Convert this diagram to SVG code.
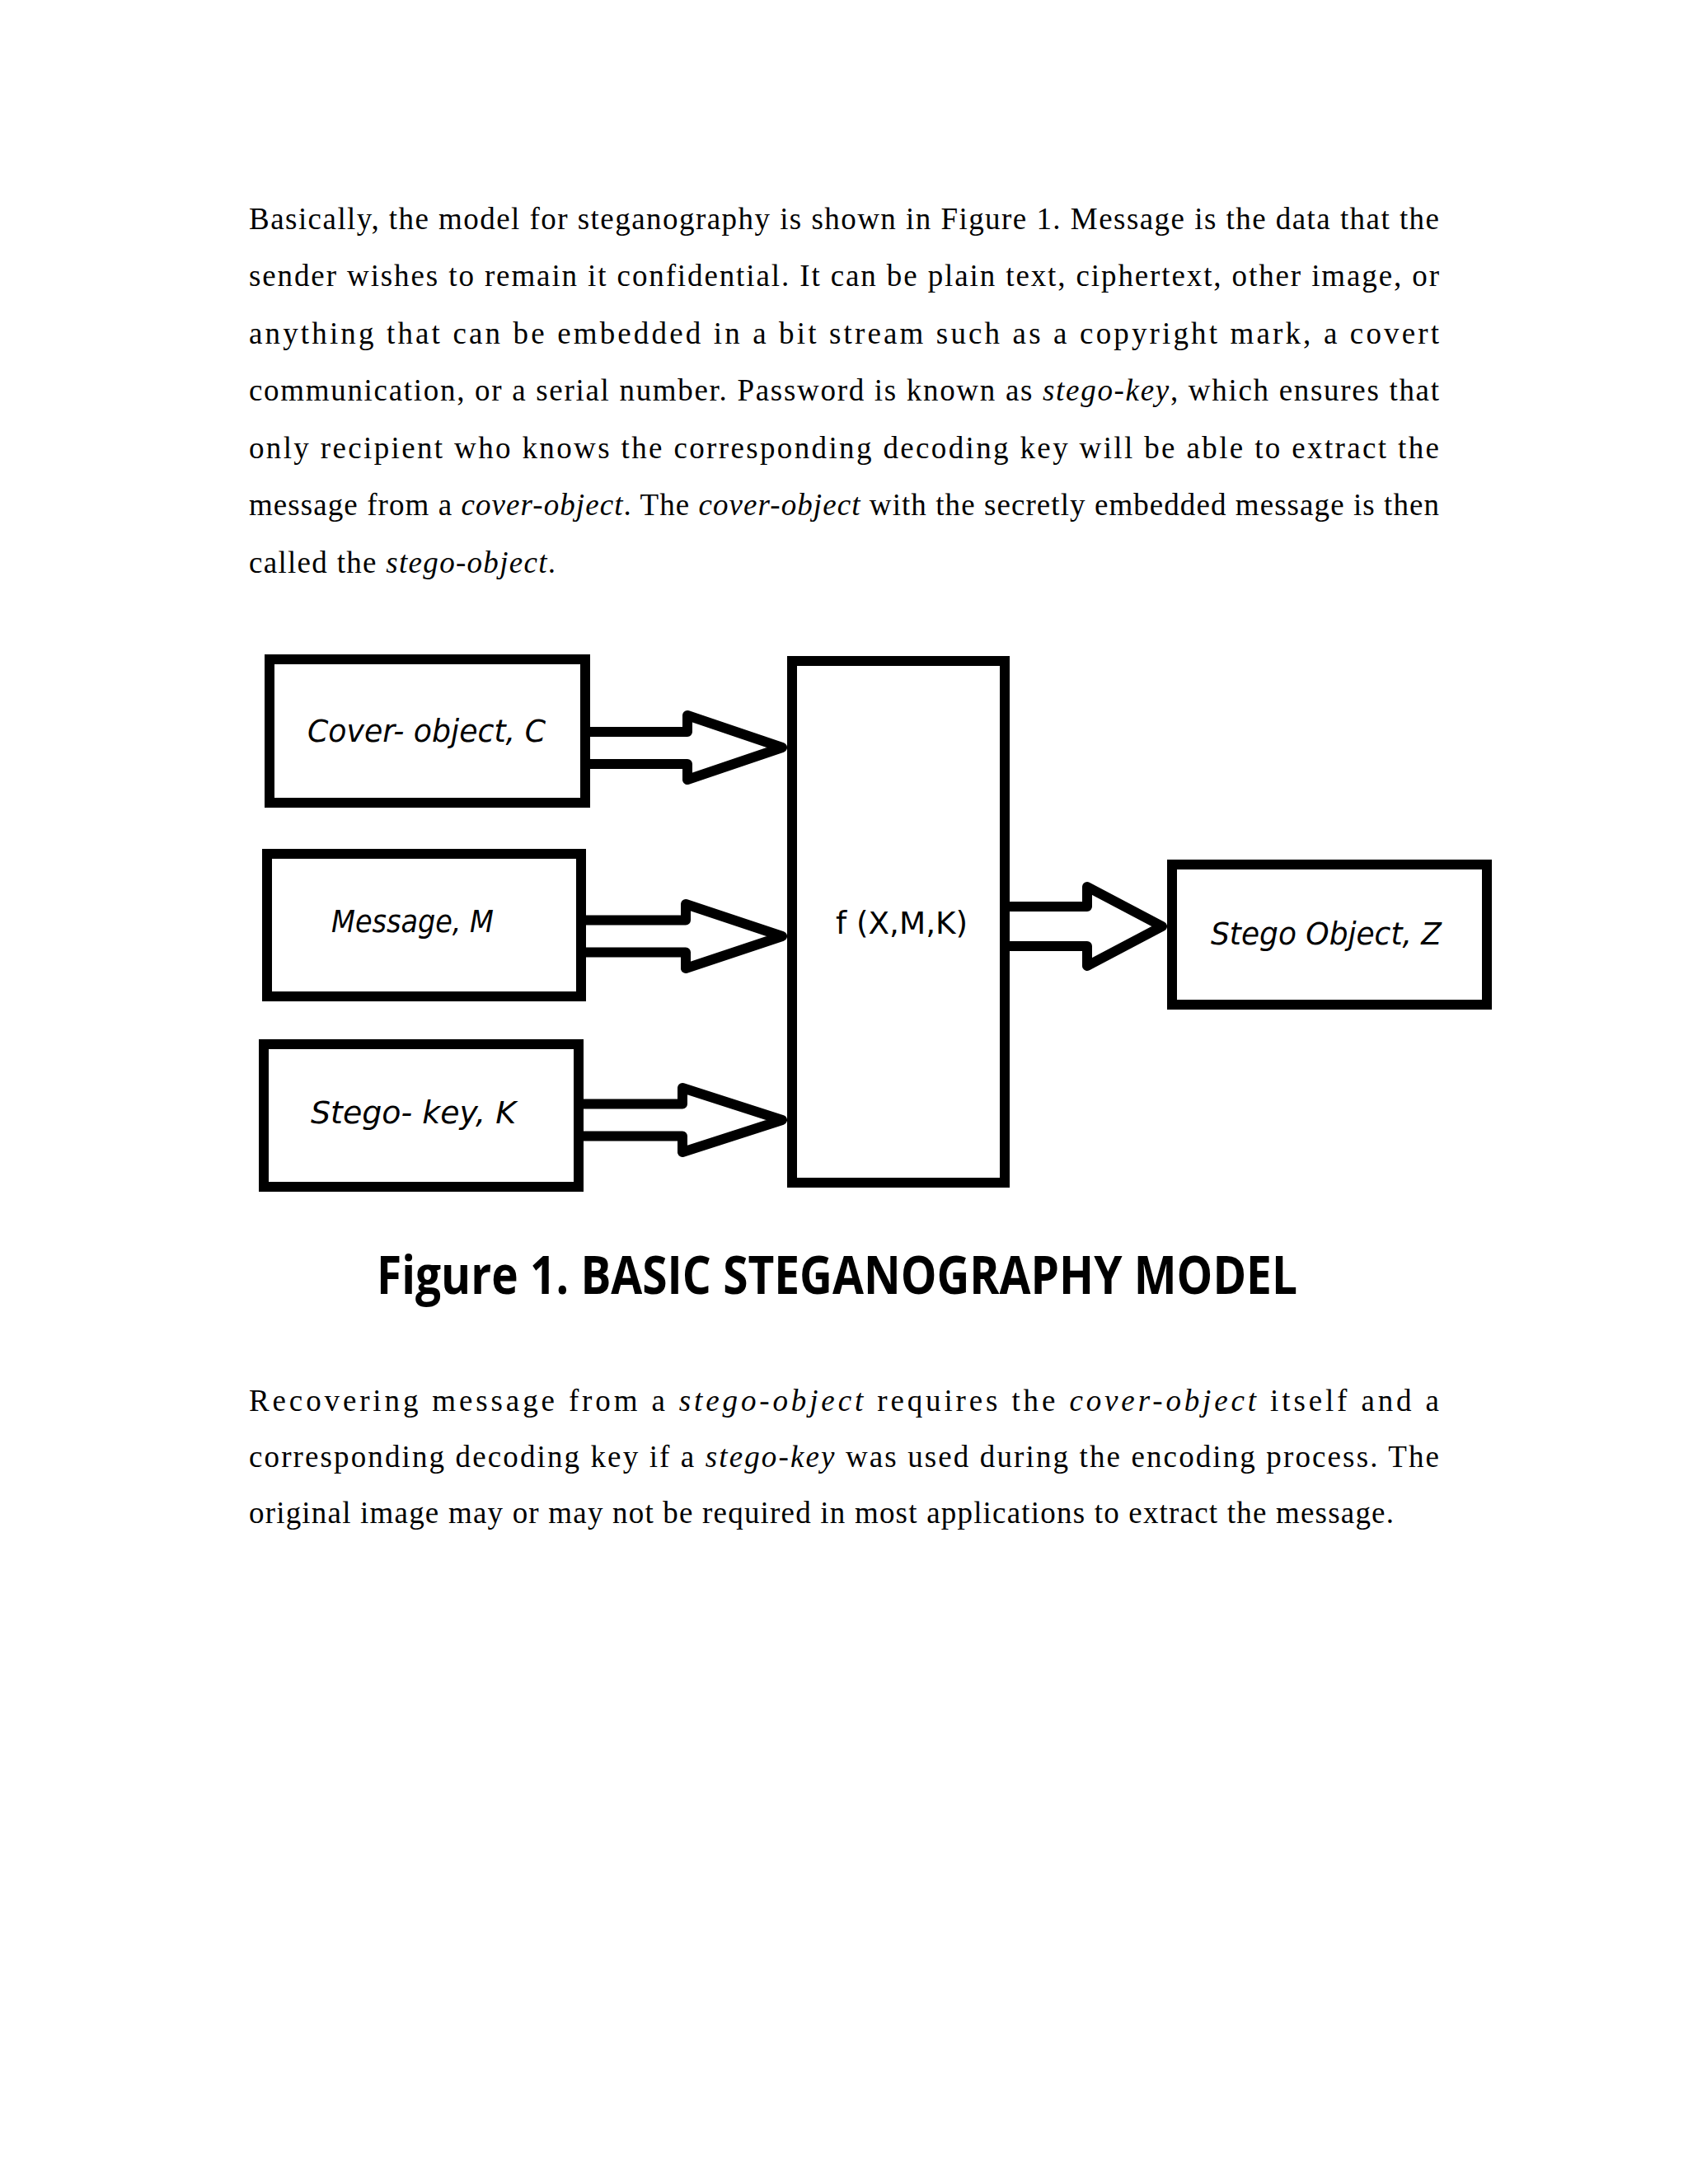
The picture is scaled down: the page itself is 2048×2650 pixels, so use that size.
<svg xmlns="http://www.w3.org/2000/svg" width="2048" height="2650" viewBox="0 0 2048 2650">
<style>
.body{font-family:"Liberation Serif","Times New Roman",serif;font-size:37px;fill:#000}
.it{font-style:italic}
.box{fill:#fff;stroke:#000;stroke-width:12}
.lbl{font-family:"DejaVu Sans",sans-serif;font-style:oblique;font-size:37px;fill:#000}
.arrow{fill:#fff;stroke:#000;stroke-width:12;stroke-linejoin:round}
.cap{font-family:"Open Sans","DejaVu Sans",sans-serif;font-weight:700;font-size:64px;fill:#000}
</style>
<rect width="2048" height="2650" fill="#fff"/>
<g id="para1" class="body">
<text x="302" y="278" textLength="1444" lengthAdjust="spacing">Basically, the model for steganography is shown in Figure 1. Message is the data that the</text>
<text x="302" y="347" textLength="1444" lengthAdjust="spacing">sender wishes to remain it confidential. It can be plain text, ciphertext, other image, or</text>
<text x="302" y="417" textLength="1444" lengthAdjust="spacing">anything that can be embedded in a bit stream such as a copyright mark, a covert</text>
<text x="302" y="486" textLength="1444" lengthAdjust="spacing">communication, or a serial number. Password is known as <tspan class="it">stego-key</tspan>, which ensures that</text>
<text x="302" y="556" textLength="1444" lengthAdjust="spacing">only recipient who knows the corresponding decoding key will be able to extract the</text>
<text x="302" y="625" textLength="1444" lengthAdjust="spacing">message from a <tspan class="it">cover-object</tspan>. The <tspan class="it">cover-object</tspan> with the secretly embedded message is then</text>
<text x="302" y="695" textLength="372" lengthAdjust="spacing">called the <tspan class="it">stego-object</tspan>.</text>
</g>
<g id="connectors">
<path class="arrow" d="M710 888 H834 V868 L949 907 L834 946 V927 H710"/>
<path class="arrow" d="M705 1116.5 H832 V1097 L949 1136 L832 1175 V1155.5 H705"/>
<path class="arrow" d="M702 1339.5 H828 V1320 L949 1359 L828 1398 V1378.5 H702"/>
<path class="arrow" d="M1219 1100 H1319 V1076 L1410 1124 L1319 1172 V1148 H1219"/>
</g>
<g id="cover">
<rect class="box" x="327" y="800" width="383" height="174"/>
<text class="lbl" x="373" y="900" textLength="289" lengthAdjust="spacingAndGlyphs">Cover- object, C</text>
</g>
<g id="message">
<rect class="box" x="324" y="1036" width="381" height="173"/>
<text class="lbl" x="402" y="1131" textLength="197" lengthAdjust="spacingAndGlyphs">Message, M</text>
</g>
<g id="stegokey">
<rect class="box" x="320" y="1267" width="382" height="173"/>
<text class="lbl" x="377" y="1363" textLength="249" lengthAdjust="spacingAndGlyphs">Stego- key, K</text>
</g>
<g id="func">
<rect class="box" x="961" y="802" width="258" height="633"/>
<text class="lbl" x="1014" y="1133" textLength="160" lengthAdjust="spacingAndGlyphs" style="font-style:normal">f (X,M,K)</text>
</g>
<g id="stegoobject">
<rect class="box" x="1422" y="1049" width="382" height="170"/>
<text class="lbl" x="1469" y="1146" textLength="280" lengthAdjust="spacingAndGlyphs">Stego Object, Z</text>
</g>
<g id="caption">
<text class="cap" x="457" y="1570" textLength="1117" lengthAdjust="spacingAndGlyphs">Figure 1. BASIC STEGANOGRAPHY MODEL</text>
</g>
<g id="para2" class="body">
<text x="302" y="1712" textLength="1444" lengthAdjust="spacing">Recovering message from a <tspan class="it">stego-object</tspan> requires the <tspan class="it">cover-object</tspan> itself and a</text>
<text x="302" y="1780" textLength="1444" lengthAdjust="spacing">corresponding decoding key if a <tspan class="it">stego-key</tspan> was used during the encoding process. The</text>
<text x="302" y="1848" textLength="1389" lengthAdjust="spacing">original image may or may not be required in most applications to extract the message.</text>
</g>
</svg>
